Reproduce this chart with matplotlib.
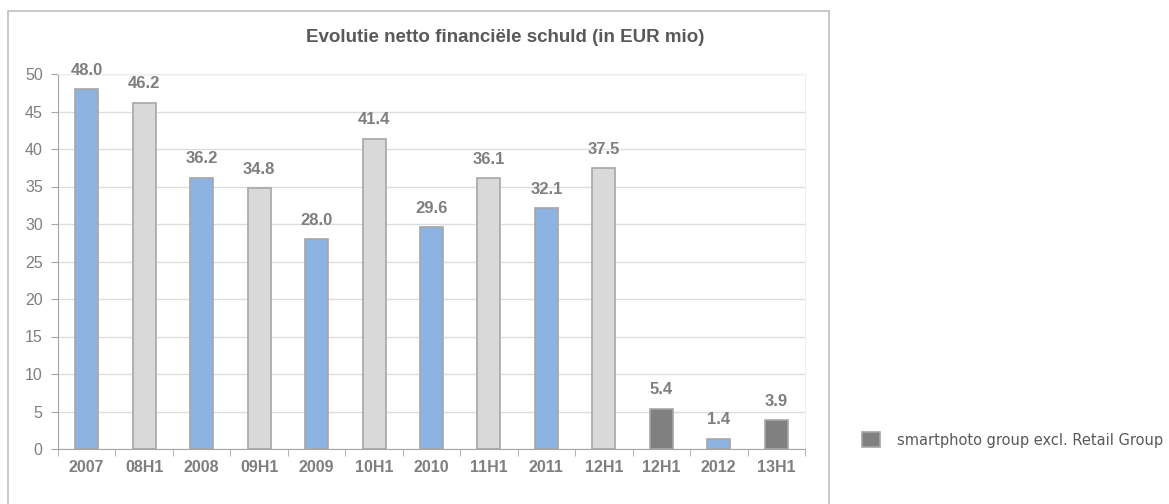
import matplotlib.pyplot as plt
from matplotlib.patches import Rectangle
import numpy as np

categories = ["2007", "08H1", "2008", "09H1", "2009", "10H1", "2010",
              "11H1", "2011", "12H1", "12H1", "2012", "13H1"]
values = [48.0, 46.2, 36.2, 34.8, 28.0, 41.4, 29.6, 36.1, 32.1, 37.5, 5.4, 1.4, 3.9]
# which series each bar belongs to
groups = ["year", "half", "year", "half", "year", "half", "year",
          "half", "year", "half", "excl", "year", "excl"]

colors = {"year": "#8DB3E2", "half": "#D9D9D9", "excl": "#808080"}
legend_label = "smartphoto group excl. Retail Group"

plt.rcParams['font.family'] = ['Liberation Sans', 'DejaVu Sans']

fig = plt.figure(figsize=(11.69, 5.04), dpi=100)

# outer chart frame
fig.patches.append(Rectangle((8 / 1169, -0.1), (829 - 8) / 1169, 1.1 - 11 / 504,
                             transform=fig.transFigure, fill=False,
                             edgecolor="#BFBFBF", linewidth=1.2))

ax = fig.add_axes([58 / 1169, 1 - 449 / 504, (805 - 58) / 1169, (449 - 74) / 504])

x = np.arange(len(categories))
for i, (v, g) in enumerate(zip(values, groups)):
    ax.bar(x[i], v, width=0.4, color=colors[g], edgecolor="#A6A6A6", linewidth=1.2,
           zorder=3, label=legend_label if (g == "excl" and i == 10) else None)
    ax.annotate("{:.1f}".format(v), (x[i], v), xytext=(0, 8), textcoords="offset points",
                ha="center", va="bottom", fontsize=12, fontweight="bold", color="#7F7F7F")

ax.set_xlim(-0.5, len(categories) - 0.5)
ax.set_ylim(0, 50)
ax.set_yticks(np.arange(0, 51, 5))
ax.yaxis.grid(True, color="#DDDDDD", linewidth=1, zorder=0)

ax.set_xticks(x)
ax.set_xticklabels(categories, fontweight="bold", fontsize=11.5, color="#7F7F7F")
ax.set_xticks(np.arange(-0.5, len(categories), 1), minor=True)
ax.tick_params(axis="x", which="major", length=0, pad=8)
ax.tick_params(axis="x", which="minor", length=5, color="#A6A6A6", direction="out")
ax.tick_params(axis="y", length=5, color="#A6A6A6", labelsize=11.5, labelcolor="#7F7F7F", pad=6)

for side in ["top", "right"]:
    ax.spines[side].set_color("#EEEEEE")
ax.spines["left"].set_color("#A6A6A6")
ax.spines["bottom"].set_color("#A6A6A6")

fig.text(505 / 1169, 1 - 38 / 504, "Evolutie netto financiële schuld (in EUR mio)",
         ha="center", va="center", fontsize=13.5, fontweight="bold", color="#595959")

fig.legend(loc="center left", bbox_to_anchor=(849 / 1169, 1 - 440 / 504), frameon=False,
           prop={"family": "DejaVu Sans", "size": 10.5}, labelcolor="#595959",
           handlelength=1.2, handleheight=1.2, handletextpad=1.2)

fig.savefig("out.png", dpi=100)
